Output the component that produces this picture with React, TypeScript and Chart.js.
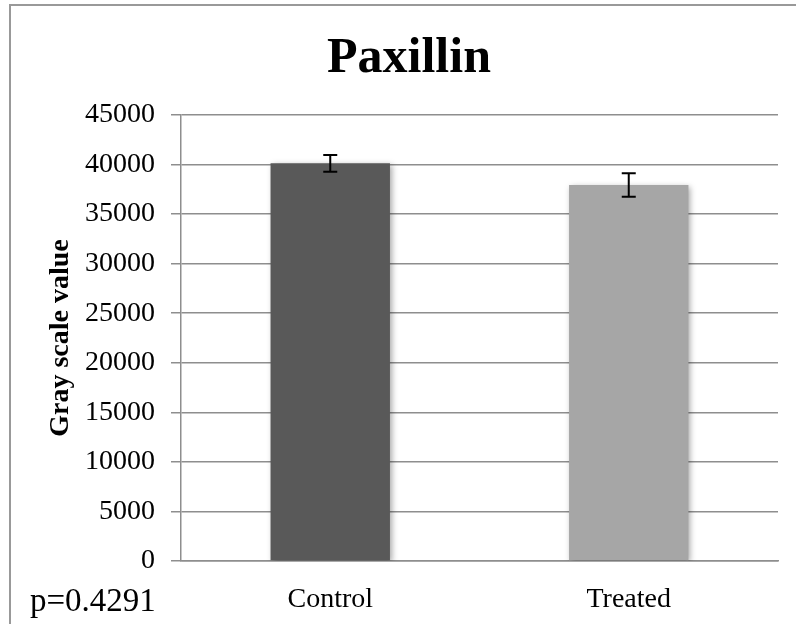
import React, { useEffect, useRef } from 'react';
import { Chart, registerables } from 'chart.js';

Chart.register(...registerables);

const categories = ['Control', 'Treated'];
const values = [40120, 37940];
const errors = [840, 1180];
const barColors = ['#595959', '#a6a6a6'];
const yMin = 0;
const yMax = 45000;
const yStep = 5000;
const titleText = 'Paxillin';
const yTitle = 'Gray scale value';
const pValueText = 'p=0.4291';

const FONT = '"Liberation Serif", "Times New Roman", serif';
const GRID = '#8e8e8e';

export default function App() {
  const ref = useRef<HTMLCanvasElement>(null);

  useEffect(() => {
    document.body.style.margin = '0';
    if (!ref.current) return;

    const barShadow = {
      id: 'barShadow',
      beforeDatasetDraw(chart: any) {
        const ctx = chart.ctx;
        ctx.save();
        ctx.shadowColor = 'rgba(0,0,0,0.35)';
        ctx.shadowBlur = 6;
        ctx.shadowOffsetX = 2;
        ctx.shadowOffsetY = 2;
      },
      afterDatasetDraw(chart: any) {
        chart.ctx.restore();
      },
    };

    const errorBars = {
      id: 'errorBars',
      afterDatasetsDraw(chart: any) {
        const { ctx } = chart;
        const y = chart.scales.y;
        const meta = chart.getDatasetMeta(0);
        ctx.save();
        ctx.strokeStyle = '#000';
        ctx.lineWidth = 2;
        meta.data.forEach((bar: any, i: number) => {
          const cx = bar.x;
          const top = y.getPixelForValue(values[i] + errors[i]);
          const bot = y.getPixelForValue(values[i] - errors[i]);
          ctx.beginPath();
          ctx.moveTo(cx, top);
          ctx.lineTo(cx, bot);
          ctx.moveTo(cx - 7, top);
          ctx.lineTo(cx + 7, top);
          ctx.moveTo(cx - 7, bot);
          ctx.lineTo(cx + 7, bot);
          ctx.stroke();
        });
        ctx.restore();
      },
    };

    const chart = new Chart(ref.current, {
      type: 'bar',
      data: {
        labels: categories,
        datasets: [
          {
            data: values,
            backgroundColor: barColors,
            borderWidth: 0,
            barPercentage: 0.4,
            categoryPercentage: 1,
          },
        ],
      },
      options: {
        responsive: false,
        animation: false,
        layout: { padding: { left: 40, right: 18, top: 0, bottom: 0 } },
        plugins: {
          legend: { display: false },
          tooltip: { enabled: false },
          title: {
            display: true,
            text: titleText,
            color: '#000',
            font: { family: FONT, size: 50, weight: 'bold' },
            padding: { top: 29, bottom: 26 },
          },
        },
        scales: {
          x: {
            grid: { display: false, drawTicks: false },
            border: { display: true, color: GRID, width: 1.5 },
            ticks: { color: '#000', font: { family: FONT, size: 28 }, padding: 22 },
            afterFit: (s: any) => {
              s.height = 63;
            },
          },
          y: {
            min: yMin,
            max: yMax,
            ticks: {
              stepSize: yStep,
              color: '#000',
              font: { family: FONT, size: 28 },
              padding: 16,
              callback: (v: any) => String(v),
            },
            grid: { color: GRID, lineWidth: 1.5, tickLength: 10 },
            border: { color: GRID, width: 1.5 },
            title: {
              display: true,
              text: yTitle,
              color: '#000',
              font: { family: FONT, size: 28, weight: 'bold' },
              padding: { top: 4, bottom: 0 },
            },
            afterFit: (s: any) => {
              s.width = 141;
            },
          },
        },
      },
      plugins: [barShadow, errorBars],
    } as any);

    return () => chart.destroy();
  }, []);

  return (
    <div style={{ position: 'relative', width: 796, height: 624, overflow: 'hidden', background: '#fff' }}>
      <div
        style={{
          position: 'absolute',
          left: 9,
          top: 4,
          width: 1000,
          height: 1000,
          border: '2px solid #999',
          boxSizing: 'border-box',
        }}
      />
      <canvas ref={ref} width={796} height={624} style={{ position: 'absolute', left: 0, top: 0, display: 'block' }} />
      <div
        style={{
          position: 'absolute',
          left: 30,
          top: 584,
          fontFamily: FONT,
          fontSize: 33,
          lineHeight: 1,
          color: '#000',
          whiteSpace: 'nowrap',
        }}
      >
        {pValueText}
      </div>
    </div>
  );
}
